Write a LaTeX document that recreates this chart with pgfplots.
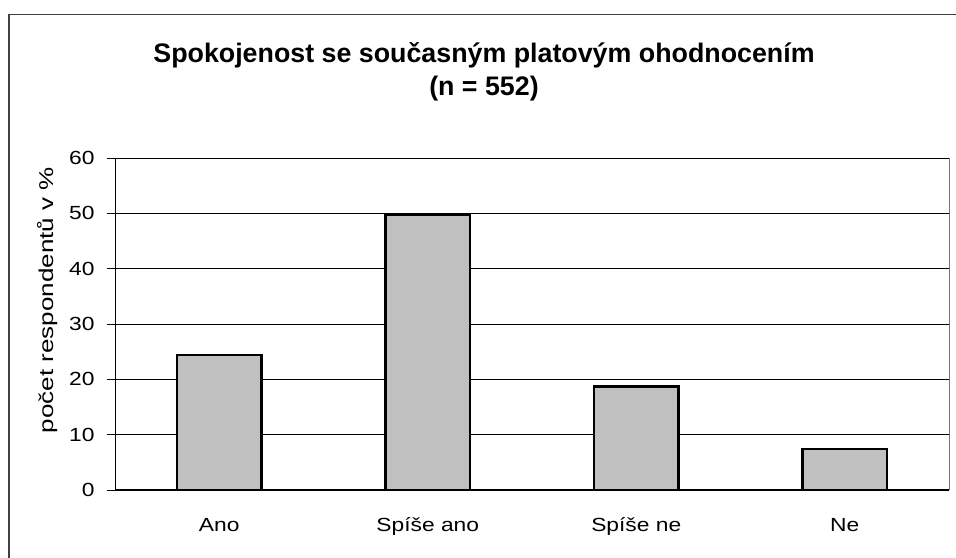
\documentclass[border=0pt]{standalone}
\usepackage{pgfplots}
\pgfplotsset{compat=1.18}
\usepackage{fontspec}
\setmainfont{Liberation Sans}
\newfontfamily\widefont{Liberation Sans}[FakeStretch=1.2]
\newfontfamily\ylfont{Liberation Sans}[FakeStretch=1.3]
\definecolor{bargray}{HTML}{C0C0C0}
\begin{document}
\begin{tikzpicture}[x=1pt,y=1pt]
\useasboundingbox (0,0) rectangle (956,557);
\fill[white] (0,0) rectangle (956,557);
\draw[line width=1.3pt, black!75] (9,-2) -- (9,542.5) -- (960,542.5);
\node[font=\fontsize{26.8}{30}\selectfont\bfseries, anchor=base] at (484,494) {Spokojenost se současným platovým ohodnocením};
\node[font=\fontsize{26.8}{30}\selectfont\bfseries, anchor=base] at (484,461) {(n = 552)};
\begin{axis}[
  at={(115pt,67pt)}, anchor=south west,
  scale only axis, width=834pt, height=332pt,
  xmin=-0.5, xmax=3.5, ymin=0, ymax=60,
  ytick={0,10,...,60},
  xtick={0,1,2,3},
  xticklabels={Ano,Spíše ano,Spíše ne,Ne},
  extra x ticks={-0.5,0.5,1.5,2.5,3.5},
  extra x tick labels={},
  extra x tick style={major tick length=7pt, tick style={black, line width=0.8pt}},
  x tick style={draw=none},
  y tick style={black, line width=0.8pt},
  major tick length=8pt,
  tick align=outside,
  axis x line*=bottom, axis y line*=left,
  ymajorgrids, grid style={black, line width=0.8pt},
  axis line style={black, line width=1pt},
  ticklabel style={font=\widefont\fontsize{19}{22}\selectfont},
  /pgf/number format/assume math mode=true,
  yticklabel style={xshift=-9pt},
  xticklabel style={anchor=base, yshift=-33pt},
  ylabel={počet respondentů v \%},
  ylabel style={font=\ylfont\fontsize{20}{23}\selectfont, at={(axis description cs:-0.0815,0.572)}, anchor=center},
  clip=false,
]
\draw[black!55, line width=1pt] (axis cs:3.5,0) -- (axis cs:3.5,60);
\addplot[ybar, bar width=84.6pt, fill=bargray, draw=black, line width=2.4pt] coordinates {(0,24.4) (1,49.8) (2,18.7) (3,7.4)};
\end{axis}
\end{tikzpicture}
\end{document}
